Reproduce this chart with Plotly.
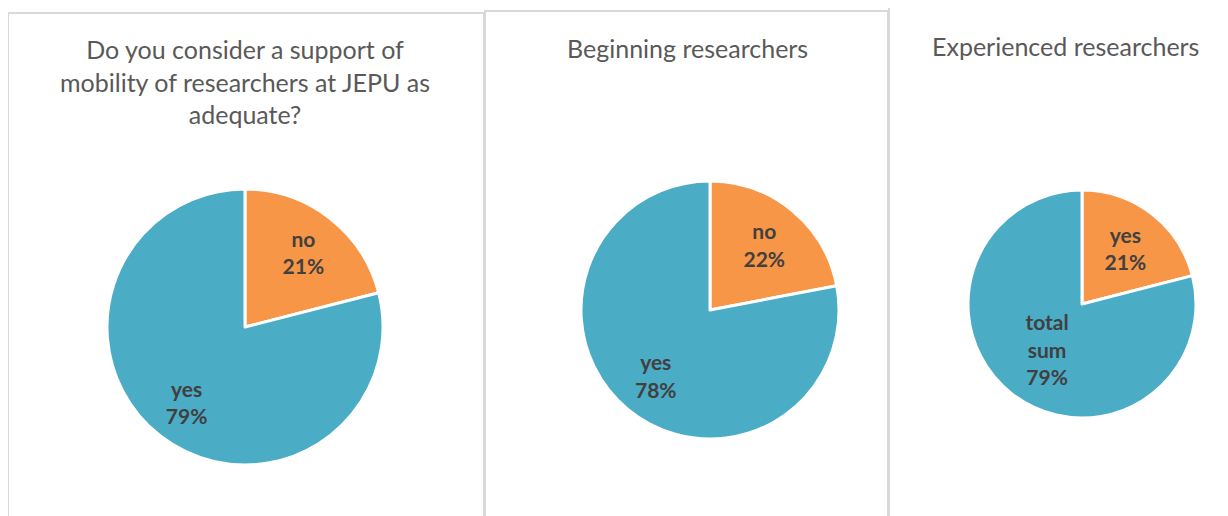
import plotly.graph_objects as go

# chart values
titles = [
    "Do you consider a support of<br>mobility of researchers at JEPU as<br>adequate?",
    "Beginning researchers",
    "Experienced researchers",
]
labels_all = ["no", "yes"]
values_all = [21, 79]
labels_beginning = ["no", "yes"]
values_beginning = [22, 78]
labels_experienced = ["yes", "total sum"]
values_experienced = [21, 79]

colors = ["#F79646", "#4BACC6"]
W, H = 1228, 516
OFF = 8  # page body margin


def px_x(v):
    return (v - OFF) / W


def px_y(v):
    return 1 - (v - OFF) / H


# pie boxes in pixels: left, right, top, bottom
boxes = [(107, 383, 189, 465), (581, 839, 181, 439), (968, 1196, 190, 418)]
# label ring: transparent donut overlay pushes data labels outward like the original
label_holes = [0.38, 0.32, 0.0]
series = [
    (labels_all, values_all),
    (labels_beginning, values_beginning),
    (labels_experienced, values_experienced),
]

fig = go.Figure()
for (labels, values), (l, r, t, b), hole in zip(series, boxes, label_holes):
    dom = dict(x=[px_x(l), px_x(r)], y=[px_y(b), px_y(t)])
    fig.add_trace(go.Pie(
        labels=labels,
        values=values,
        textinfo="none",
        sort=False,
        direction="clockwise",
        rotation=0,
        marker=dict(colors=colors, line=dict(color="white", width=3)),
        hoverinfo="label+percent",
        showlegend=False,
        domain=dom,
    ))
    fig.add_trace(go.Pie(
        labels=labels,
        values=values,
        hole=hole,
        text=[lab.replace(" ", "<br>") for lab in labels],
        texttemplate="<b>%{text}<br>%{percent:.0%}</b>",
        textposition="inside",
        insidetextorientation="horizontal",
        sort=False,
        direction="clockwise",
        rotation=0,
        marker=dict(colors=["rgba(0,0,0,0)"] * len(values), line=dict(width=0)),
        textfont=dict(family="Lato", size=21, color="#404040"),
        hoverinfo="skip",
        showlegend=False,
        domain=dom,
    ))

# panel frames
panels = [(8, 484, 13), (485, 888, 11), (889, 1250, 7)]
for x0, x1, y0 in panels:
    fig.add_shape(type="rect", xref="paper", yref="paper",
                  x0=px_x(x0), x1=px_x(x1), y0=px_y(y0), y1=-0.1,
                  line=dict(color="#D9D9D9", width=2), layer="below")

# titles
title_pos = [(245, 32), (687, 31), (1065, 29)]
for txt, (cx, ty) in zip(titles, title_pos):
    fig.add_annotation(text=txt, x=px_x(cx), y=px_y(ty), xref="paper", yref="paper",
                       xanchor="center", yanchor="top", showarrow=False,
                       font=dict(family="Lato", size=25, color="#595959"))

fig.update_layout(
    width=W, height=H,
    margin=dict(l=0, r=0, t=0, b=0),
    paper_bgcolor="white",
    plot_bgcolor="white",
)

fig.write_html("out.html")
